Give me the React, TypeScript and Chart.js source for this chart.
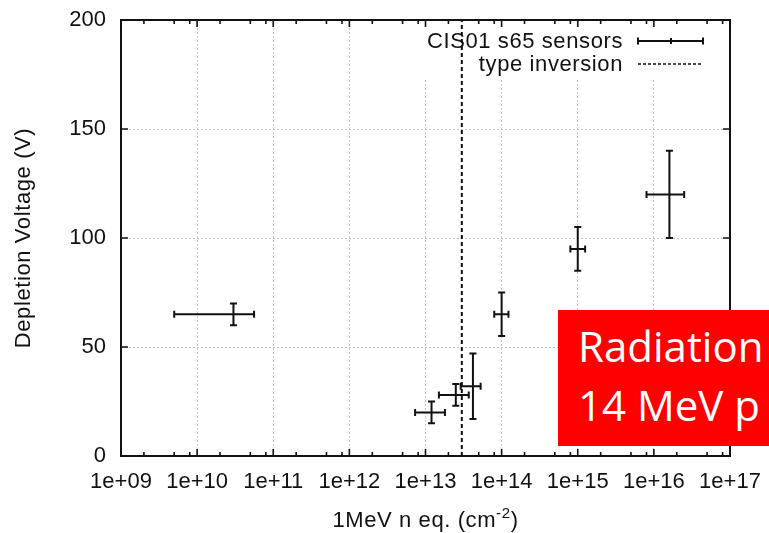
import { useEffect, useRef } from "react";
import { Chart, registerables } from "chart.js";

Chart.register(...registerables);

// ---- data ----
const fluence = [3e10, 1.2e13, 2.5e13, 4.2e13, 1e14, 1e15, 1.6e16];
const fluenceLow = [5e9, 7.3e12, 1.5e13, 2.9e13, 8e13, 8e14, 8e15];
const fluenceHigh = [5.6e10, 1.8e13, 3.7e13, 5.3e13, 1.23e14, 1.25e15, 2.5e16];
const voltage = [65, 20, 28, 32, 65, 95, 120];
const voltageErr = [5, 5, 5, 15, 10, 10, 20];
const typeInversion = 3e13;
const xTicks = [1e9, 1e10, 1e11, 1e12, 1e13, 1e14, 1e15, 1e16, 1e17];
const yTicks = [0, 50, 100, 150, 200];
const minorFactors = [2, 5, 8];
const seriesLabel = "CIS01 s65 sensors";
const inversionLabel = "type inversion";
const yTitle = "Depletion Voltage (V)";
const xTitleMain = "1MeV n eq. (cm";
const xTitleSup = "-2";
const xTitleEnd = ")";
const overlayLines = ["Radiation", "14 MeV p"];

const FONT = "'Liberation Sans', Arial, Helvetica, sans-serif";
const INK = "#111";

export default function App() {
  const ref = useRef<HTMLCanvasElement>(null);

  useEffect(() => {
    if (!ref.current) return;

    const legendBg = {
      id: "legendBg",
      beforeDatasetsDraw(chart: any) {
        const { ctx, chartArea: ca } = chart;
        ctx.save();
        ctx.fillStyle = "#fff";
        ctx.fillRect(400, ca.top, ca.right - 400, 78 - ca.top);
        ctx.restore();
      },
    };

    const errorBars = {
      id: "errorBars",
      afterDatasetsDraw(chart: any) {
        const { ctx } = chart;
        const xs = chart.scales.x;
        const ys = chart.scales.y;
        ctx.save();
        ctx.strokeStyle = INK;
        ctx.lineWidth = 2;
        const cap = 3.5;
        for (let i = 0; i < fluence.length; i++) {
          const px = xs.getPixelForValue(fluence[i]);
          const py = ys.getPixelForValue(voltage[i]);
          const xl = xs.getPixelForValue(fluenceLow[i]);
          const xh = xs.getPixelForValue(fluenceHigh[i]);
          const yt = ys.getPixelForValue(voltage[i] + voltageErr[i]);
          const yb = ys.getPixelForValue(voltage[i] - voltageErr[i]);
          ctx.beginPath();
          ctx.moveTo(xl, py); ctx.lineTo(xh, py);
          ctx.moveTo(xl, py - cap); ctx.lineTo(xl, py + cap);
          ctx.moveTo(xh, py - cap); ctx.lineTo(xh, py + cap);
          ctx.moveTo(px, yt); ctx.lineTo(px, yb);
          ctx.moveTo(px - cap, yt); ctx.lineTo(px + cap, yt);
          ctx.moveTo(px - cap, yb); ctx.lineTo(px + cap, yb);
          ctx.stroke();
        }
        ctx.restore();
      },
    };

    const frame = {
      id: "frame",
      afterDraw(chart: any) {
        const { ctx, chartArea: ca } = chart;
        const xs = chart.scales.x;
        const ys = chart.scales.y;
        ctx.save();
        ctx.strokeStyle = INK;
        ctx.lineWidth = 2;
        ctx.strokeRect(ca.left, ca.top, ca.right - ca.left, ca.bottom - ca.top);
        ctx.lineWidth = 1.6;
        ctx.beginPath();
        for (let d = 0; d < xTicks.length; d++) {
          const px = xs.getPixelForValue(xTicks[d]);
          ctx.moveTo(px, ca.bottom); ctx.lineTo(px, ca.bottom - 7);
          ctx.moveTo(px, ca.top); ctx.lineTo(px, ca.top + 7);
          if (d < xTicks.length - 1) {
            for (const f of minorFactors) {
              const mx = xs.getPixelForValue(xTicks[d] * f);
              ctx.moveTo(mx, ca.bottom); ctx.lineTo(mx, ca.bottom - 4);
              ctx.moveTo(mx, ca.top); ctx.lineTo(mx, ca.top + 4);
            }
          }
        }
        for (const v of yTicks) {
          const py = ys.getPixelForValue(v);
          ctx.moveTo(ca.left, py); ctx.lineTo(ca.left + 7, py);
          ctx.moveTo(ca.right, py); ctx.lineTo(ca.right - 7, py);
        }
        ctx.stroke();

        // legend
        ctx.fillStyle = INK;
        ctx.font = `22px ${FONT}`;
        (ctx as any).letterSpacing = "0.6px";
        ctx.textAlign = "right";
        ctx.textBaseline = "middle";
        ctx.fillText(seriesLabel, 623, 42);
        ctx.fillText(inversionLabel, 623, 65);
        ctx.lineWidth = 2;
        ctx.beginPath();
        ctx.moveTo(638, 41); ctx.lineTo(703, 41);
        ctx.moveTo(638, 37.5); ctx.lineTo(638, 44.5);
        ctx.moveTo(703, 37.5); ctx.lineTo(703, 44.5);
        ctx.moveTo(671, 38); ctx.lineTo(671, 44);
        ctx.stroke();
        ctx.lineWidth = 1.6;
        ctx.setLineDash([3, 2]);
        ctx.beginPath();
        ctx.moveTo(638, 64); ctx.lineTo(703, 64);
        ctx.stroke();
        ctx.setLineDash([]);

        // y title
        ctx.save();
        ctx.translate(24, (ca.top + ca.bottom) / 2);
        ctx.rotate(-Math.PI / 2);
        ctx.textAlign = "center";
        ctx.textBaseline = "middle";
        ctx.fillText(yTitle, 0, 0);
        ctx.restore();

        // x title with superscript
        ctx.textAlign = "left";
        ctx.textBaseline = "alphabetic";
        ctx.font = `22px ${FONT}`;
        const w1 = ctx.measureText(xTitleMain).width;
        const w3 = ctx.measureText(xTitleEnd).width;
        ctx.font = `15px ${FONT}`;
        const w2 = ctx.measureText(xTitleSup).width;
        const cx = (ca.left + ca.right) / 2;
        let x0 = cx - (w1 + w2 + w3) / 2;
        const base = 527;
        ctx.font = `22px ${FONT}`;
        ctx.fillText(xTitleMain, x0, base);
        x0 += w1;
        ctx.font = `15px ${FONT}`;
        ctx.fillText(xTitleSup, x0, base - 9);
        x0 += w2;
        ctx.font = `22px ${FONT}`;
        ctx.fillText(xTitleEnd, x0, base);
        ctx.restore();
      },
    };

    const chart = new Chart(ref.current, {
      type: "scatter",
      data: {
        datasets: [
          {
            label: seriesLabel,
            data: fluence.map((x, i) => ({ x, y: voltage[i] })),
            pointRadius: 0,
            showLine: false,
          },
          {
            label: inversionLabel,
            type: "line",
            data: [
              { x: typeInversion, y: yTicks[0] },
              { x: typeInversion, y: yTicks[yTicks.length - 1] },
            ],
            borderColor: INK,
            borderWidth: 2,
            borderDash: [4, 3],
            pointRadius: 0,
            showLine: true,
          } as any,
        ],
      },
      options: {
        responsive: false,
        animation: false,
        devicePixelRatio: 1,
        layout: { padding: { top: 20, right: 39, left: 0, bottom: 0 } },
        plugins: { legend: { display: false }, tooltip: { enabled: false }, title: { display: false } },
        scales: {
          x: {
            type: "logarithmic",
            min: xTicks[0],
            max: xTicks[xTicks.length - 1],
            afterBuildTicks: (scale: any) => {
              scale.ticks = xTicks.map((v) => ({ value: v }));
            },
            afterFit: (scale: any) => {
              scale.height = 77;
              scale.paddingLeft = 0;
              scale.paddingRight = 0;
              scale.paddingTop = 0;
              scale.paddingBottom = 0;
            },
            grid: { color: "#c4c4c4", lineWidth: 1, drawTicks: false },
            border: { display: false, dash: [2, 2] },
            ticks: {
              autoSkip: false,
              maxRotation: 0,
              minRotation: 0,
              padding: 13,
              color: INK,
              font: { family: FONT, size: 22 },
              callback: (v: any) => {
                const e = Math.round(Math.log10(Number(v)));
                return "1e+" + String(e).padStart(2, "0");
              },
            },
          },
          y: {
            type: "linear",
            min: yTicks[0],
            max: yTicks[yTicks.length - 1],
            afterBuildTicks: (scale: any) => {
              scale.ticks = yTicks.map((v) => ({ value: v }));
            },
            afterFit: (scale: any) => {
              scale.width = 121;
              scale.paddingLeft = 0;
              scale.paddingRight = 0;
              scale.paddingTop = 0;
              scale.paddingBottom = 0;
            },
            grid: { color: "#c4c4c4", lineWidth: 1, drawTicks: false },
            border: { display: false, dash: [2, 2] },
            ticks: {
              padding: 15,
              color: INK,
              font: { family: FONT, size: 22 },
            },
          },
        },
      },
      plugins: [legendBg, errorBars, frame],
    } as any);

    return () => chart.destroy();
  }, []);

  return (
    <div style={{ position: "absolute", left: 0, top: 0, width: 769, height: 533, overflow: "hidden", background: "#fff" }}>
      <canvas ref={ref} width={769} height={533} style={{ display: "block" }} />
      <div
        style={{
          position: "absolute",
          left: 558,
          top: 310,
          width: 211,
          height: 136,
          background: "#ff0000",
          color: "#fff",
          fontFamily: "'Open Sans', 'Noto Sans', sans-serif",
          fontSize: 42,
          lineHeight: "58.7px",
          paddingTop: 7,
          paddingLeft: 20,
          boxSizing: "border-box",
          whiteSpace: "nowrap",
          overflow: "hidden",
        }}
      >
        {overlayLines.map((t) => (
          <div key={t}>{t}</div>
        ))}
      </div>
    </div>
  );
}
